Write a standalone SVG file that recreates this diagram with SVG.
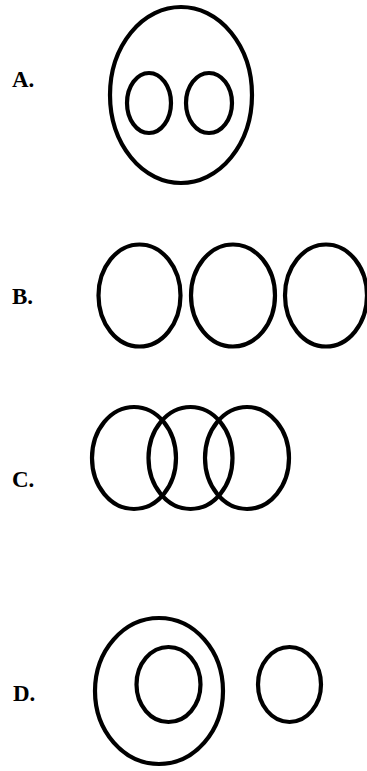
<svg xmlns="http://www.w3.org/2000/svg" width="367" height="771" viewBox="0 0 367 771">
<style>
.o{fill:none;stroke:#000;stroke-width:4.2}
.l{font-family:"Liberation Serif","Times New Roman",serif;font-weight:bold;font-size:23px;fill:#000}
</style>
<rect width="367" height="771" fill="#fff"/>
<g id="A">
<text class="l" x="12" y="87">A.</text>
<ellipse class="o" cx="181" cy="95" rx="71" ry="88"/>
<ellipse class="o" cx="149" cy="103" rx="22" ry="30"/>
<ellipse class="o" cx="209" cy="103" rx="23" ry="30"/>
</g>
<g id="B">
<text class="l" x="12" y="304">B.</text>
<ellipse class="o" cx="139.5" cy="295.5" rx="41" ry="51"/>
<ellipse class="o" cx="233" cy="295.5" rx="42" ry="51"/>
<ellipse class="o" cx="326" cy="295.5" rx="41" ry="51"/>
</g>
<g id="C">
<text class="l" x="12" y="487">C.</text>
<ellipse class="o" cx="134" cy="458" rx="42" ry="51"/>
<ellipse class="o" cx="190.5" cy="458" rx="42" ry="51"/>
<ellipse class="o" cx="247" cy="458" rx="42" ry="51"/>
</g>
<g id="D">
<text class="l" x="13" y="701">D.</text>
<ellipse class="o" cx="159" cy="691" rx="64" ry="73"/>
<ellipse class="o" cx="168.5" cy="684.5" rx="32" ry="37.5"/>
<ellipse class="o" cx="289.5" cy="684.5" rx="31.5" ry="37.5"/>
</g>
</svg>
